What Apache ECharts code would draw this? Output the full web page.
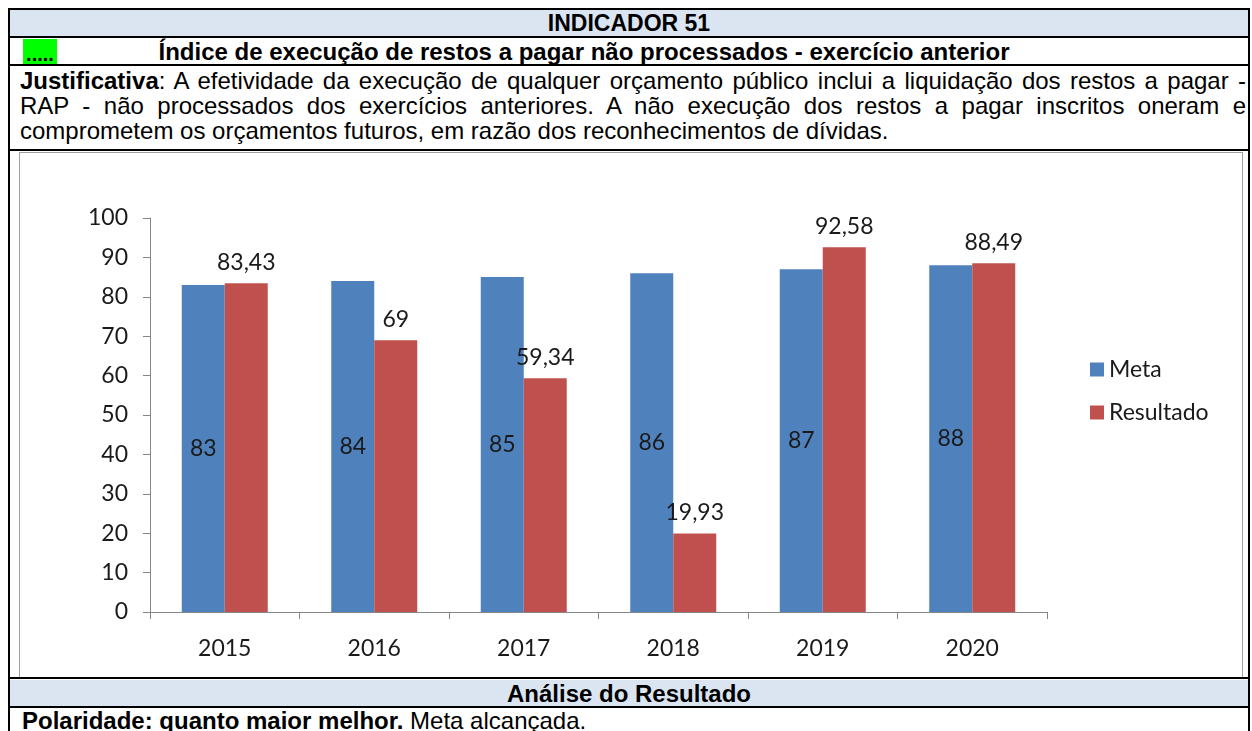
<!DOCTYPE html>
<html lang="pt">
<head>
    <meta charset="UTF-8">
    <title>Indicador 51</title>
    <script src="https://cdn.jsdelivr.net/npm/echarts@6.0.0/dist/echarts.min.js"></script>
    <style>
        body {
            margin: 0;
            width: 1252px;
            height: 731px;
            overflow: hidden;
            background: #fff;
            font-family: "Liberation Sans", Arial, sans-serif;
            color: #000;
        }
        .box {
            position: absolute;
            box-sizing: border-box;
        }
        .frame {
            left: 8px; top: 8px; width: 1242px; height: 740px;
            border: 2px solid #000;
        }
        .hline {
            left: 8px; width: 1242px; height: 2px; background: #000;
        }
        .head {
            left: 10px; width: 1238px; background: #dbe5f1;
        }
        .bold {
            font-weight: bold;
            font-size: 24px;
            line-height: 27px;
            text-align: center;
            white-space: nowrap;
        }
        .green {
            left: 23px; top: 39px; width: 34px; height: 26px;
            background: #00ff00;
            font-weight: bold; font-size: 20px; line-height: 30px;
            text-align: center;
        }
        .just {
            left: 20px; top: 68px; width: 1226px;
            font-size: 24px;
            line-height: 25px;
            text-align: justify;
        }
        .chartframe {
            left: 19px; top: 152px; width: 1224px; height: 526px;
            border: 1px solid #a0a0a0;
        }
        #chart {
            position: absolute;
            left: 20px; top: 153px; width: 1222px; height: 524px;
        }
        .polar {
            left: 22px; top: 708px;
            font-size: 24px; line-height: 26px; white-space: nowrap;
        }
    </style>
</head>
<body>
    <div class="box head" style="top:10px;height:27px;"></div>
    <div class="box head" style="top:680px;height:27px;"></div>

    <div class="box bold" style="left:10px;top:10px;width:1238px;font-size:23px;">INDICADOR 51</div>
    <div class="box green">.....</div>
    <div class="box bold" style="left:60px;top:38px;width:1048px;">Índice de execução de restos a pagar não processados - exercício anterior</div>
    <div class="box just"><b>Justificativa</b>: A efetividade da execução de qualquer orçamento público inclui a liquidação dos restos a pagar - RAP - não processados dos exercícios anteriores. A não execução dos restos a pagar inscritos oneram e comprometem os orçamentos futuros, em razão dos reconhecimentos de dívidas.</div>

    <div class="box chartframe"></div>
    <div id="chart"></div>

    <div class="box bold" style="left:10px;top:680px;width:1238px;">Análise do Resultado</div>
    <div class="box polar"><b>Polaridade: quanto maior melhor.</b> Meta alcançada.</div>

    <div class="box hline" style="top:36px;"></div>
    <div class="box hline" style="top:64px;"></div>
    <div class="box hline" style="top:149px;"></div>
    <div class="box hline" style="top:677px;"></div>
    <div class="box hline" style="top:706px;"></div>
    <div class="box frame"></div>

    <script>
        // dados do indicador
        const anos = ['2015', '2016', '2017', '2018', '2019', '2020'];
        const meta = [83, 84, 85, 86, 87, 88];
        const resultado = [83.43, 69, 59.34, 19.93, 92.58, 88.49];

        const fonte = 'Lato, "Open Sans", sans-serif';
        const corTexto = '#1a1a1a';

        function virgula(v) {
            return String(v).replace('.', ',');
        }

        const chart = echarts.init(document.getElementById('chart'));
        chart.setOption({
            animation: false,
            textStyle: { fontFamily: fonte },
            grid: { left: 130, right: 195, top: 65, bottom: 65 },
            legend: {
                orient: 'vertical',
                left: 1065,
                top: 200,
                itemWidth: 14,
                itemHeight: 14,
                itemGap: 20,
                icon: 'rect',
                textStyle: { fontFamily: fonte, fontSize: 23, color: corTexto },
                data: ['Meta', 'Resultado']
            },
            xAxis: {
                type: 'category',
                data: anos,
                axisLine: { lineStyle: { color: '#868686', width: 1 } },
                axisTick: { show: true, length: 7, lineStyle: { color: '#868686' } },
                axisLabel: { fontSize: 23, color: corTexto, margin: 25, fontFamily: fonte }
            },
            yAxis: {
                type: 'value',
                min: 0,
                max: 100,
                interval: 10,
                axisLine: { show: true, lineStyle: { color: '#868686', width: 1 } },
                axisTick: { show: true, length: 7, lineStyle: { color: '#868686' } },
                splitLine: { show: false },
                axisLabel: { fontSize: 23, color: corTexto, margin: 22, fontFamily: fonte }
            },
            series: [
                {
                    name: 'Meta',
                    type: 'bar',
                    data: meta,
                    barWidth: 43,
                    barGap: '0%',
                    itemStyle: { color: '#4f81bd' },
                    label: {
                        show: true,
                        position: 'inside',
                        fontSize: 23,
                        color: corTexto,
                        fontFamily: fonte,
                        formatter: p => virgula(p.value)
                    }
                },
                {
                    name: 'Resultado',
                    type: 'bar',
                    data: resultado,
                    barWidth: 43,
                    itemStyle: { color: '#c0504d' },
                    label: {
                        show: true,
                        position: 'top',
                        distance: 9,
                        fontSize: 23,
                        color: corTexto,
                        fontFamily: fonte,
                        formatter: p => virgula(p.value)
                    }
                }
            ]
        });
    </script>
</body>
</html>
